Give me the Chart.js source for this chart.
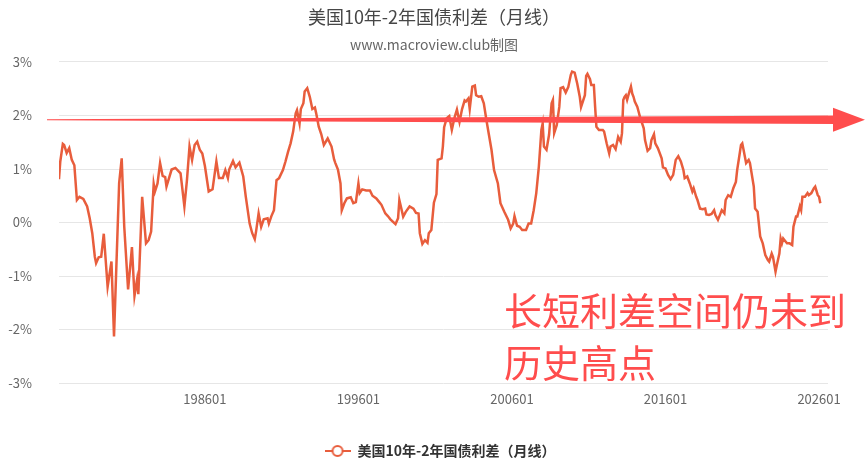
<!DOCTYPE html>
<html>
<head>
<meta charset="utf-8">
<script src="https://cdn.jsdelivr.net/npm/chart.js@4/dist/chart.umd.min.js"></script>
<style>
html,body{margin:0;padding:0;background:#fff;}
#wrap{width:865px;height:466px;}
</style>
</head>
<body>
<div id="wrap"><canvas id="spreadChart" width="865" height="466"></canvas></div>
<script>
// 美国10年-2年国债利差 月线 (%)
const dates = [
"197607","197608","197610","197611","197701","197703","197705","197707","197709","197711",
"197802","197805","197807","197809","197811","197812","197902","197904","197906","197909",
"197912","198002","198006","198008","198010","198101","198103","198104","198106","198108",
"198109","198112","198203","198205","198207","198209","198210","198212","198302","198304",
"198306","198307","198311","198402","198406","198409","198411","198501","198503","198505",
"198507","198509","198511","198601","198604","198607","198610","198612","198703","198705",
"198707","198708","198711","198801","198804","198807","198809","198812","198902","198904",
"198905","198907","198909","198911","199002","199003","199005","199007","199009","199011",
"199102","199104","199106","199108","199110","199112","199201","199203","199204","199206",
"199207","199209","199211","199301","199303","199304","199306","199308","199310","199401",
"199404","199406","199407","199409","199411","199412","199502","199504","199507","199509",
"199511","199601","199602","199604","199607","199610","199612","199703","199705","199707",
"199710","199712","199802","199806","199808","199809","199812","199902","199905","199908",
"199910","199912","200001","200003","200005","200007","200008","200010","200012","200102",
"200103","200106","200107","200108","200110","200112","200202","200204","200206","200208",
"200210","200212","200301","200303","200304","200306","200308","200309","200311","200401",
"200403","200405","200407","200409","200411","200502","200504","200507","200510","200512",
"200602","200603","200605","200607","200609","200612","200702","200704","200706","200708",
"200710","200712","200801","200802","200804","200806","200808","200809","200810","200812",
"200902","200903","200905","200907","200909","200911","200912","201002","201004","201006",
"201007","201010","201011","201012","201102","201103","201105","201106","201107","201109",
"201112","201201","201203","201205","201206","201208","201210","201212","201302","201303",
"201304","201305","201306","201307","201308","201310","201311","201312","201401","201403",
"201404","201405","201408","201409","201411","201501","201502","201504","201505","201507",
"201510","201511","201601","201603","201605","201607","201609","201611","201701","201703",
"201704","201706","201708","201710","201711","201801","201802","201804","201806","201808",
"201809","201811","201901","201903","201904","201906","201908","201909","201911","201912",
"202002","202004","202006","202008","202009","202011","202012","202101","202102","202104",
"202106","202107","202110","202111","202201","202203","202205","202207","202209","202210",
"202212","202301","202303","202304","202306","202307","202308","202309","202311","202312",
"202402","202404","202405","202407","202408","202410","202411","202412","202502","202504",
"202505","202507","202509","202510","202512","202601","202602"
];
const spread = [
0.81,1.14,1.47,1.45,1.30,1.39,1.17,1.07,0.42,0.48,
0.44,0.30,0.08,-0.20,-0.64,-0.76,-0.65,-0.64,-0.21,-1.20,
-0.73,-2.13,0.73,1.20,-0.08,-1.25,-0.73,-0.46,-1.37,-1.07,
-1.34,0.48,-0.39,-0.33,-0.17,0.72,0.58,0.73,1.11,0.87,
0.85,0.67,0.99,1.02,0.92,0.30,0.79,1.42,1.17,1.45,
1.51,1.36,1.29,1.06,0.58,0.62,1.14,0.83,0.83,0.98,
0.83,0.99,1.15,1.03,1.12,0.86,0.48,-0.02,-0.20,-0.31,
-0.17,0.17,-0.08,0.06,0.08,-0.02,0.12,0.23,0.79,0.83,
0.98,1.14,1.32,1.48,1.70,2.04,2.10,1.85,2.12,2.23,
2.45,2.51,2.35,2.12,2.15,2.04,1.79,1.65,1.45,1.57,
1.42,1.18,1.11,0.99,0.73,0.23,0.36,0.45,0.47,0.36,
0.38,0.73,0.55,0.62,0.60,0.60,0.50,0.45,0.39,0.33,
0.17,0.12,0.06,-0.03,0.08,0.42,0.11,0.20,0.30,0.26,
0.18,0.17,-0.20,-0.40,-0.33,-0.38,-0.20,-0.14,0.37,0.53,
1.17,1.20,1.42,1.78,1.95,1.99,1.73,1.95,2.11,1.88,
2.12,2.28,2.26,2.32,2.12,2.54,2.56,2.38,2.35,2.36,
2.23,1.92,1.64,1.36,0.98,0.73,0.36,0.20,0.05,-0.11,
-0.02,0.12,-0.06,-0.08,-0.14,-0.14,-0.02,-0.02,0.23,0.55,
1.04,1.73,1.85,1.42,1.36,1.64,2.23,2.29,1.67,1.82,
2.16,2.51,2.53,2.43,2.53,2.76,2.82,2.80,2.60,2.35,
2.16,2.38,2.74,2.78,2.68,2.57,2.57,2.16,1.79,1.73,
1.73,1.70,1.48,1.29,1.42,1.45,1.37,1.60,1.51,1.67,
2.29,2.35,2.38,2.29,2.38,2.54,2.41,2.35,2.26,2.16,
2.07,1.98,1.76,1.54,1.34,1.39,1.54,1.65,1.48,1.39,
1.20,1.03,1.01,0.89,0.81,0.89,1.17,1.24,1.14,0.98,
0.83,0.86,0.73,0.58,0.64,0.48,0.42,0.26,0.25,0.26,
0.15,0.14,0.16,0.23,0.14,0.05,0.17,0.23,0.17,0.42,
0.51,0.48,0.64,0.76,0.98,1.29,1.45,1.48,1.36,1.11,
1.17,1.11,0.67,0.26,0.20,-0.26,-0.39,-0.61,-0.70,-0.73,
-0.58,-0.64,-0.92,-0.80,-0.58,-0.30,-0.39,-0.30,-0.36,-0.39,
-0.39,-0.42,-0.08,0.11,0.11,0.30,0.23,0.48,0.48,0.55,
0.51,0.55,0.64,0.67,0.51,0.48,0.36
];
const xTickLabels = ["198601","199601","200601","201601","202601"];
const yTicks = [-3,-2,-1,0,1,2,3];
const seriesName = "美国10年-2年国债利差（月线）";
const noteLines = ["长短利差空间仍未到","历史高点"];
const arrowLevel = 1.92;

const lineColor = "#e85d3c";
const noteColor = "#ff4d4d";

// YYYYMM -> month count since 197601
function toIdx(s){
return (parseInt(s.slice(0,4))-1976)*12+parseInt(s.slice(4,6))-1;
}
function toLabel(v){
const y=1976+Math.floor(v/12);
const m=v-(y-1976)*12+1;
return String(y)+(m<10?"0":"")+m;
}

const points = dates.map((d,i)=>({x:toIdx(d),y:spread[i]}));

// legend icon: line with hollow circle
const icon=document.createElement("canvas");
icon.width=26;icon.height=14;
const ic=icon.getContext("2d");
ic.strokeStyle=lineColor;ic.lineWidth=2;
ic.beginPath();ic.moveTo(0,7);ic.lineTo(26,7);ic.stroke();
ic.fillStyle="#fff";
ic.beginPath();ic.arc(13,7,5,0,Math.PI*2);ic.fill();ic.stroke();

// title/subtitle/legend are centred on the whole canvas, not the padded area
const centerPlugin={
id:"centerBoxes",
afterLayout(chart){
chart.boxes.forEach(b=>{
if(b.axis)return;
const dx=b.position==="bottom"?26:20;
b.left+=dx;b.right+=dx;
});
}
};

// arrow + note text drawn over the line
const notePlugin={
id:"note",
afterDatasetsDraw(chart){
const c=chart.ctx;
const y=chart.scales.y.getPixelForValue(arrowLevel);
c.save();
c.fillStyle=noteColor;
c.beginPath();
c.moveTo(47,y-0.5);
c.lineTo(833,y-4.3);
c.lineTo(833,y-12);
c.lineTo(865,y);
c.lineTo(833,y+12);
c.lineTo(833,y+4.3);
c.lineTo(47,y+0.5);
c.closePath();
c.fill();
c.font="38px 'Noto Sans CJK SC', sans-serif";
c.textBaseline="middle";
c.textAlign="left";
c.fillText(noteLines[0],504,311);
c.fillText(noteLines[1],504,363);
c.restore();
}
};

Chart.defaults.font.family="'Noto Sans CJK SC','Noto Sans',sans-serif";

const ctx=document.getElementById("spreadChart").getContext("2d");
const spreadChart=new Chart(ctx,{
type:"line",
data:{
datasets:[{
label:seriesName,
data:points,
borderColor:lineColor,
backgroundColor:lineColor,
borderWidth:2.5,
pointRadius:0,
tension:0
}]
},
options:{
responsive:false,
animation:false,
layout:{padding:{left:0,right:37,top:0,bottom:-2}},
plugins:{
title:{
display:true,
text:"美国10年-2年国债利差（月线）",
color:"#464646",
font:{size:18,weight:"normal"},
padding:{top:6,bottom:9}
},
subtitle:{
display:true,
text:"www.macroview.club制图",
color:"#666",
font:{size:14},
padding:{top:0,bottom:8.6}
},
legend:{
position:"bottom",
labels:{
usePointStyle:true,
pointStyle:icon,
pointStyleWidth:26,
color:"#333",
font:{size:14,weight:"bold"},
padding:10
}
},
tooltip:{enabled:false}
},
scales:{
x:{
type:"linear",
min:toIdx(dates[0]),
max:toIdx(dates[dates.length-1])+6,
grid:{display:false},
border:{display:false},
afterFit:s=>{s.height=51;},
afterBuildTicks:s=>{s.ticks=xTickLabels.map(l=>({value:toIdx(l)}));},
ticks:{
autoSkip:false,
maxRotation:0,
color:"#666",
font:{size:13},
padding:0,
callback:v=>toLabel(v)
}
},
y:{
min:yTicks[0],
max:yTicks[yTicks.length-1],
afterFit:s=>{s.width=59;},
afterBuildTicks:s=>{s.ticks=yTicks.map(v=>({value:v}));},
grid:{color:"#e6e6e6",lineWidth:1,drawTicks:false},
border:{display:false},
ticks:{
color:"#666",
font:{size:13},
padding:27,
callback:v=>v+"%"
}
}
}
},
plugins:[centerPlugin,notePlugin]
});
</script>
</body>
</html>
